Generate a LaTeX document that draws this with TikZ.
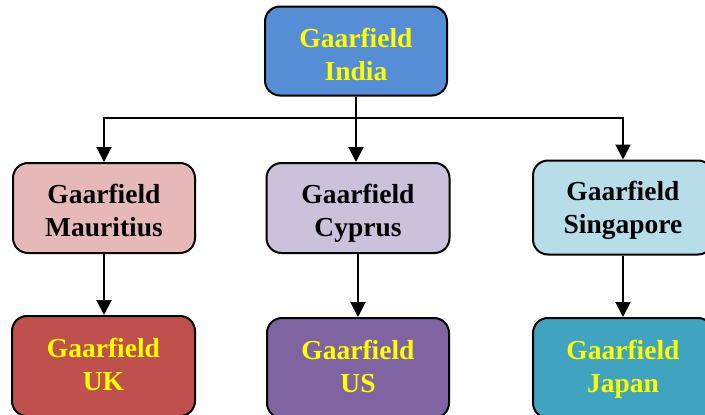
\documentclass[tikz,border=0pt]{standalone}
\usepackage{fontspec}
\setmainfont{Liberation Serif}
\usetikzlibrary{arrows.meta}
\definecolor{cIndia}{HTML}{558ED5}
\definecolor{cMaur}{HTML}{E6B9B8}
\definecolor{cCyp}{HTML}{CCC1DA}
\definecolor{cSing}{HTML}{B7DEE8}
\definecolor{cUK}{HTML}{C0504D}
\definecolor{cUS}{HTML}{8064A2}
\definecolor{cJap}{HTML}{40A3C0}
\definecolor{txtY}{HTML}{FFFF00}
\tikzset{
  box/.style={draw=black, line width=2pt, rounded corners=15pt, inner sep=0pt},
  txt/.style={align=center, inner sep=0pt, font=\fontsize{27.5}{33}\selectfont\bfseries},
  conn/.style={line width=2pt, draw=black},
  arr/.style={conn, -{Triangle[width=15pt,length=15pt]}}
}
\begin{document}
\begin{tikzpicture}[x=1pt,y=1pt]
\useasboundingbox (0,0) rectangle (705,-415);
\begin{scope}
\clip (0,0) rectangle (705,-415);
\node[box, fill=cIndia, minimum width=182pt, minimum height=89pt] (india) at (356,-51) {};
\node[box, fill=cMaur, minimum width=182pt, minimum height=90pt] (maur) at (104,-208) {};
\node[box, fill=cCyp, minimum width=183pt, minimum height=90pt] (cyp) at (358,-208) {};
\node[box, fill=cSing, minimum width=180pt, minimum height=94pt] (sing) at (623,-207.5) {};
\node[box, fill=cUK, minimum width=183pt, minimum height=100pt] (uk) at (103.5,-366) {};
\node[box, fill=cUS, minimum width=182pt, minimum height=100pt] (us) at (358,-368) {};
\node[box, fill=cJap, minimum width=180pt, minimum height=100pt] (jap) at (623,-368) {};
\end{scope}
\node[txt, text=txtY] (indiat) at (356,-57) {\strut Gaarfield\\\strut India};
\node[txt, text=black] (maurt) at (104,-213) {\strut Gaarfield\\\strut Mauritius};
\node[txt, text=black] (cypt) at (358,-213) {\strut Gaarfield\\\strut Cyprus};
\node[txt, text=black] (singt) at (623,-210.5) {\strut Gaarfield\\\strut Singapore};
\node[txt, text=txtY] (ukt) at (103.5,-367) {\strut Gaarfield\\\strut UK};
\node[txt, text=txtY] (ust) at (358,-369) {\strut Gaarfield\\\strut US};
\node[txt, text=txtY] (japt) at (623,-369) {\strut Gaarfield\\\strut Japan};
\coordinate (bus) at (357,-118);
\draw[conn] (india.south) -- (india.south |- bus);
\draw[arr] (india.south |- bus) -| (maur.north);
\draw[arr] (india.south |- bus) -| (sing.north);
\draw[arr] (india.south |- bus) -- (cyp.north -| india.south);
\draw[arr] (maur.south) -- (maur.south |- uk.north);
\draw[arr] (cyp.south) -- (us.north);
\draw[arr] (sing.south) -- (jap.north);
\end{tikzpicture}
\end{document}
